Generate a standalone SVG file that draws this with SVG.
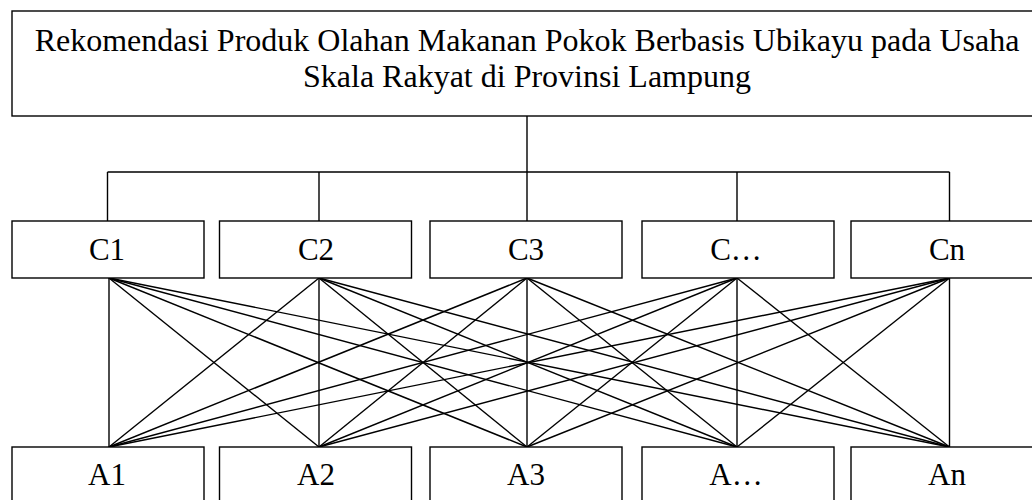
<svg xmlns="http://www.w3.org/2000/svg" width="1032" height="500" viewBox="0 0 1032 500">
  <style>
    .box { fill: #ffffff; stroke: #000000; stroke-width: 1.4; }
    .lbl { font-family: "Liberation Serif", "Times New Roman", serif; font-size: 31px; fill: #000000; text-anchor: middle; }
    .ttl { font-family: "Liberation Serif", "Times New Roman", serif; font-size: 32px; fill: #000000; text-anchor: middle; }
    .conn line, .conn path { stroke: #000000; stroke-width: 1.4; fill: none; }
  </style>
  <rect width="1032" height="500" fill="#ffffff"/>

  <!-- connectors -->
  <g id="connectors" class="conn">
    <!-- goal to criteria bus -->
    <path d="M527 116 V172 M107.5 172 H949.5 M107.5 172 V221 M319 172 V221 M527 172 V221 M737 172 V221 M949.5 172 V221"/>
    <!-- criteria to alternatives, full mesh -->
    <g id="mesh">
      <line x1="109" y1="278" x2="109" y2="447"/>
      <line x1="109" y1="278" x2="319" y2="447"/>
      <line x1="109" y1="278" x2="527" y2="447"/>
      <line x1="109" y1="278" x2="737" y2="447"/>
      <line x1="109" y1="278" x2="949.5" y2="447"/>
      <line x1="319" y1="278" x2="109" y2="447"/>
      <line x1="319" y1="278" x2="319" y2="447"/>
      <line x1="319" y1="278" x2="527" y2="447"/>
      <line x1="319" y1="278" x2="737" y2="447"/>
      <line x1="319" y1="278" x2="949.5" y2="447"/>
      <line x1="527" y1="278" x2="109" y2="447"/>
      <line x1="527" y1="278" x2="319" y2="447"/>
      <line x1="527" y1="278" x2="527" y2="447"/>
      <line x1="527" y1="278" x2="737" y2="447"/>
      <line x1="527" y1="278" x2="949.5" y2="447"/>
      <line x1="737" y1="278" x2="109" y2="447"/>
      <line x1="737" y1="278" x2="319" y2="447"/>
      <line x1="737" y1="278" x2="527" y2="447"/>
      <line x1="737" y1="278" x2="737" y2="447"/>
      <line x1="737" y1="278" x2="949.5" y2="447"/>
      <line x1="949.5" y1="278" x2="109" y2="447"/>
      <line x1="949.5" y1="278" x2="319" y2="447"/>
      <line x1="949.5" y1="278" x2="527" y2="447"/>
      <line x1="949.5" y1="278" x2="737" y2="447"/>
      <line x1="949.5" y1="278" x2="949.5" y2="447"/>
    </g>
  </g>

  <!-- goal -->
  <g id="goal">
    <rect class="box" x="12" y="11" width="1031" height="105"/>
    <text class="ttl" x="527" y="51">Rekomendasi Produk Olahan Makanan Pokok Berbasis Ubikayu pada Usaha</text>
    <text class="ttl" x="527" y="87">Skala Rakyat di Provinsi Lampung</text>
  </g>

  <!-- criteria -->
  <g id="c1"><rect class="box" x="12" y="221" width="192" height="57"/><text class="lbl" x="107" y="260">C1</text></g>
  <g id="c2"><rect class="box" x="219.5" y="221" width="192" height="57"/><text class="lbl" x="316" y="260">C2</text></g>
  <g id="c3"><rect class="box" x="430" y="221" width="192" height="57"/><text class="lbl" x="526" y="260">C3</text></g>
  <g id="c4"><rect class="box" x="642" y="221" width="192" height="57"/><text class="lbl" x="736" y="260">C…</text></g>
  <g id="cn"><rect class="box" x="851" y="221" width="192" height="57"/><text class="lbl" x="947" y="260">Cn</text></g>

  <!-- alternatives -->
  <g id="a1"><rect class="box" x="12" y="447" width="192" height="70"/><text class="lbl" x="107" y="485">A1</text></g>
  <g id="a2"><rect class="box" x="219.5" y="447" width="192" height="70"/><text class="lbl" x="316" y="485">A2</text></g>
  <g id="a3"><rect class="box" x="430" y="447" width="192" height="70"/><text class="lbl" x="526" y="485">A3</text></g>
  <g id="a4"><rect class="box" x="642" y="447" width="192" height="70"/><text class="lbl" x="736" y="485">A…</text></g>
  <g id="an"><rect class="box" x="851" y="447" width="192" height="70"/><text class="lbl" x="947" y="485">An</text></g>
</svg>
